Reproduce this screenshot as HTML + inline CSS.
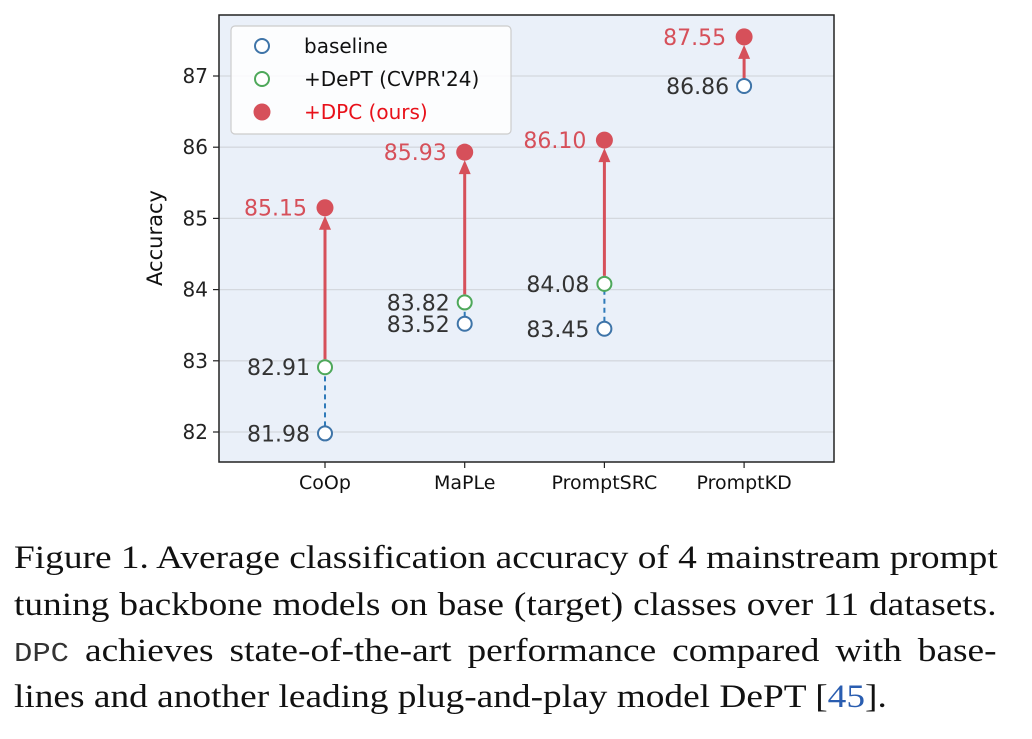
<!DOCTYPE html>
<html><head><meta charset="utf-8"><style>
body{margin:0;width:1032px;height:739px;background:#fff;overflow:hidden}
svg text{font-family:"DejaVu Sans","Liberation Sans",sans-serif}
.ln{position:absolute;left:14px;width:868px;transform:scaleX(1.132);transform-origin:0 0;font-family:"Liberation Serif",serif;font-size:33px;line-height:40px;color:#111;text-align:justify;text-align-last:justify;white-space:nowrap}
.mono{font-family:"Liberation Mono",monospace;font-size:27px;color:#333}
</style></head><body>
<svg id="chart" width="1032" height="530" style="position:absolute;left:0;top:0"></svg>
<div>
<div class="ln" style="top:538px">Figure 1. Average classification accuracy of 4 mainstream prompt</div>
<div class="ln" style="top:585px">tuning backbone models on base (target) classes over 11 datasets.</div>
<div class="ln" style="top:631px"><span class="mono">DPC</span> achieves state-of-the-art performance compared with base-</div>
<div class="ln" style="top:677px;text-align-last:left;width:auto">lines and another leading plug-and-play model DePT [<span style="color:#2a5db0">45</span>].</div>
</div>
<script>
const categories=["CoOp","MaPLe","PromptSRC","PromptKD"];
const baseline=[81.98,83.52,83.45,86.86];
const dept=[82.91,83.82,84.08,null];
const dpc=[85.15,85.93,86.10,87.55];
const yTicks=[82,83,84,85,86,87];
const NS="http://www.w3.org/2000/svg";
const svg=document.getElementById('chart');
const L=219,R=834,T=15,B=462;
const y=v=>432-(v-82)*71.2;
const x=i=>325+i*139.7;
function mk(t,a,p){const e=document.createElementNS(NS,t);for(const k in a)e.setAttribute(k,a[k]);(p||svg).appendChild(e);return e;}
const bg=mk('rect',{x:L,y:T,width:R-L,height:B-T,fill:'#eaf0f9'});


yTicks.forEach(v=>{
 const g=mk('line',{x1:L,x2:R,y1:y(v),y2:y(v),stroke:'#d4d8de','stroke-width':1.3});
 
 
 mk('line',{x1:L-6,x2:L,y1:y(v),y2:y(v),stroke:'#222','stroke-width':1.2});
 const t=mk('text',{x:L-11,y:y(v)+7,'text-anchor':'end','font-size':20,fill:'#222'});t.textContent=v;
 
 
});
const yt=mk('text',{transform:'translate(162,238) rotate(-90)','text-anchor':'middle','font-size':21,fill:'#111'});yt.textContent='Accuracy';


const fr=mk('rect',{x:L,y:T,width:R-L,height:B-T,fill:'none',stroke:'#222','stroke-width':1.5});


categories.forEach((c,i)=>{
 mk('line',{x1:x(i),x2:x(i),y1:B,y2:B+6,stroke:'#222','stroke-width':1.2});
 const t=mk('text',{x:x(i),y:B+27,'text-anchor':'middle','font-size':19,fill:'#111'});t.textContent=c;
 
 
 const top=dept[i]!=null?dept[i]:baseline[i];
 if(dept[i]!=null){
  const d=mk('line',{x1:x(i),x2:x(i),y1:y(baseline[i])-7,y2:y(dept[i])+7,stroke:'#2f7ab9','stroke-width':2,'stroke-dasharray':'5,4'});
  
  
 }
 const a=mk('line',{x1:x(i),x2:x(i),y1:y(top)-8,y2:y(dpc[i])+20,stroke:'#d6505a','stroke-width':3});
 
 
 mk('polygon',{points:`${x(i)-6},${y(dpc[i])+22} ${x(i)+6},${y(dpc[i])+22} ${x(i)},${y(dpc[i])+8}`,fill:'#d6505a'});
 const b=mk('circle',{cx:x(i),cy:y(baseline[i]),r:7,fill:'#fff',stroke:'#3e74a8','stroke-width':2});
 
 
 const bl=mk('text',{x:x(i)-15,y:y(baseline[i])+8,'text-anchor':'end','font-size':22,fill:'#333'});bl.textContent=baseline[i].toFixed(2);
 
 
 if(dept[i]!=null){
  const g=mk('circle',{cx:x(i),cy:y(dept[i]),r:7,fill:'#fff',stroke:'#4ea85a','stroke-width':2});
  
  
  const gl=mk('text',{x:x(i)-15,y:y(dept[i])+8,'text-anchor':'end','font-size':22,fill:'#333'});gl.textContent=dept[i].toFixed(2);
  
  
 }
 const r=mk('circle',{cx:x(i),cy:y(dpc[i]),r:8.5,fill:'#d6505a'});
 
 
 const rl=mk('text',{x:x(i)-18,y:y(dpc[i])+8,'text-anchor':'end','font-size':22,fill:'#d6505a'});rl.textContent=dpc[i].toFixed(2);
 
 
});
const lg=mk('g',{});


mk('rect',{x:231,y:26,width:280,height:108,rx:4,fill:'#fff','fill-opacity':0.85,stroke:'#ccc','stroke-width':1.2},lg);
[['baseline','#3e74a8','#fff','#111'],["+DePT (CVPR'24)",'#4ea85a','#fff','#111'],['+DPC (ours)','#d6505a','#d6505a','#e8111a']].forEach((e,k)=>{
 const cy=46+k*33;
 mk('circle',{cx:262,cy:cy,r:k==2?8.5:7,fill:e[2],stroke:e[1],'stroke-width':k==2?0:2},lg);
 const t=mk('text',{x:304,y:cy+7,'font-size':20,fill:e[3]},lg);t.textContent=e[0];
 
 
});
</script>
</body></html>
